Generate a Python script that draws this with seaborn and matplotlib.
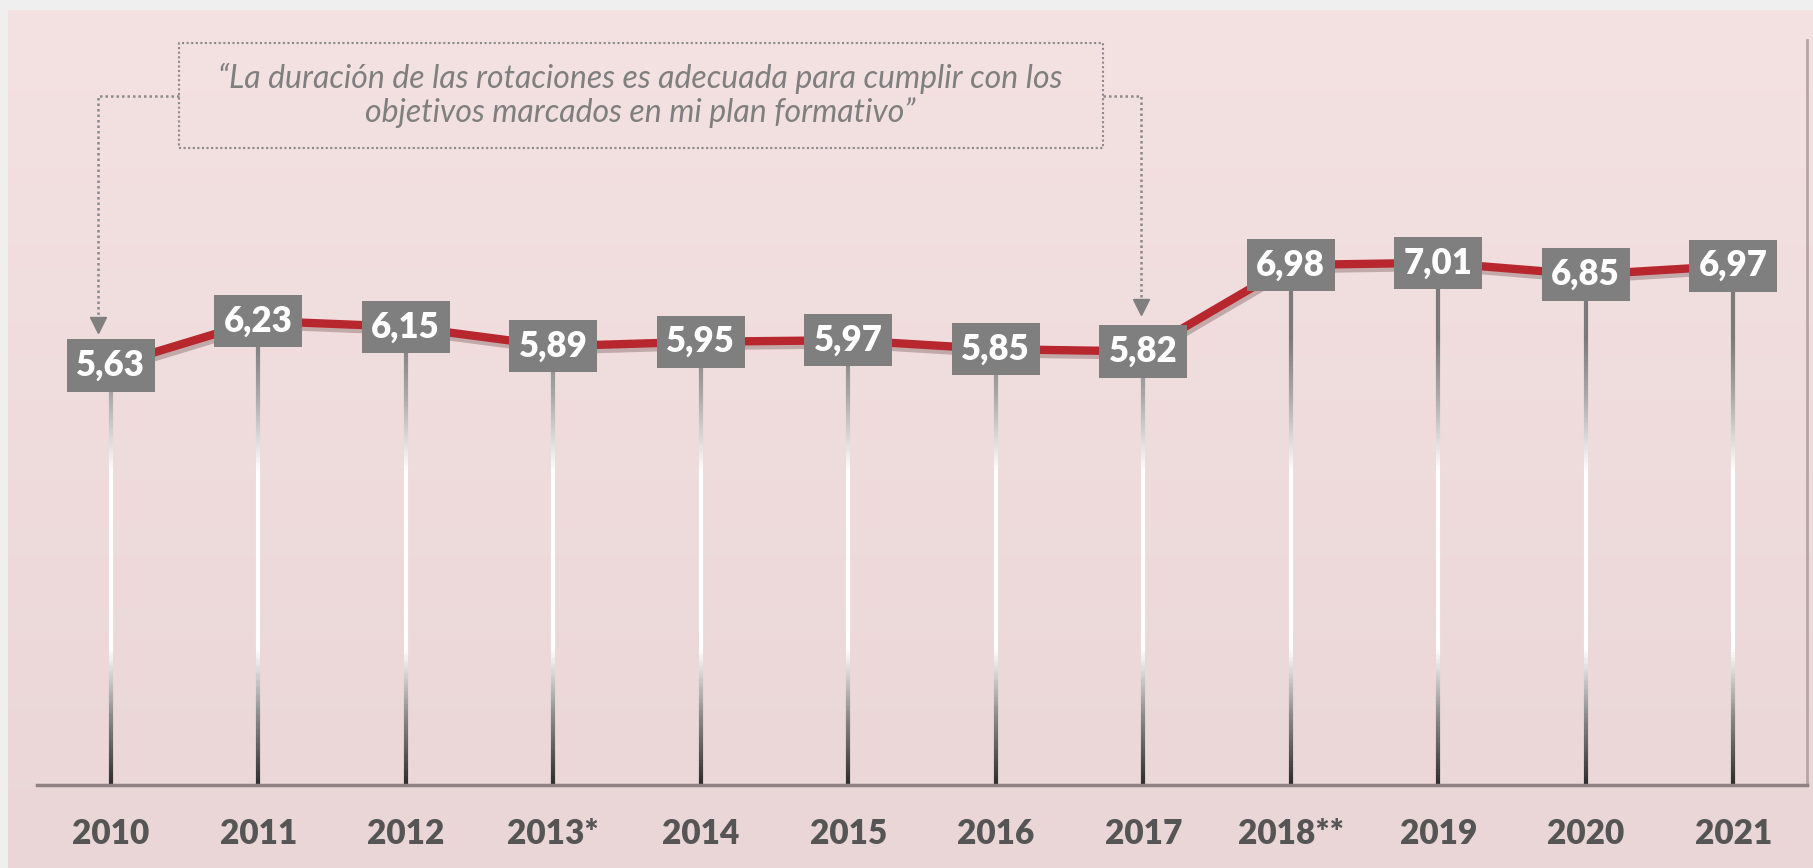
import numpy as np
import pandas as pd
import matplotlib.pyplot as plt
import seaborn as sns
from matplotlib.collections import LineCollection
from matplotlib.colors import LinearSegmentedColormap
import matplotlib.patheffects as pe

# data
years = ['2010', '2011', '2012', '2013*', '2014', '2015', '2016', '2017',
         '2018**', '2019', '2020', '2021']
scores = [5.63, 6.23, 6.15, 5.89, 5.95, 5.97, 5.85, 5.82, 6.98, 7.01, 6.85, 6.97]
quote = ('\u201cLa duración de las rotaciones es adecuada para cumplir con los\n'
         'objetivos marcados en mi plan formativo\u201d')

df = pd.DataFrame({'pos': np.arange(len(years)), 'year': years, 'score': scores})

sns.set_style('white')
plt.rcParams['font.family'] = ['Lato', 'DejaVu Sans']

W, H = 1813, 868
fig = plt.figure(figsize=(W / 100, H / 100), dpi=100)
fig.patch.set_facecolor('#efefef')

# pink gradient background
bg = fig.add_axes([8 / W, 0, 1 - 8 / W, 1 - 10 / H])
grad = LinearSegmentedColormap.from_list('bg', ['#ead6d6', '#f4e1e2'])
bg.imshow(np.linspace(0, 1, 256)[::-1].reshape(-1, 1), aspect='auto', cmap=grad,
          extent=[0, 1, 0, 1])
bg.set_axis_off()

# plot area
ax = fig.add_axes([37 / W, (H - 785) / H, 1770 / W, 745 / H])
ax.set_facecolor('none')
ax.set_xlim(-0.5, len(years) - 0.5)
ax.set_ylim(0, 10)

# gradient drop lines
drop = LinearSegmentedColormap.from_list(
    'drop', [(0, '#2e2e2e'), (0.15, '#8a8a8a'), (0.3, '#ffffff'),
             (0.7, '#ffffff'), (0.87, '#a8a8a8'), (1, '#7a7a7a')])
for x, v in zip(df['pos'], df['score']):
    yy = np.linspace(0, v, 200)
    segs = [[(x, yy[k]), (x, yy[k + 1])] for k in range(len(yy) - 1)]
    lc = LineCollection(segs, colors=drop(np.clip(yy[:-1] / 6.0, 0, 1)),
                        linewidths=3, zorder=2)
    ax.add_collection(lc)

# red line
sns.lineplot(data=df, x='pos', y='score', ax=ax, color='#b8272d', linewidth=6,
             zorder=3,
             path_effects=[pe.SimpleLineShadow(offset=(1.5, -3), shadow_color='#6e4a4a',
                                               alpha=0.35),
                           pe.Normal()])

# value boxes
for x, v in zip(df['pos'], df['score']):
    ax.text(x, v, f'{v:.2f}'.replace('.', ','), ha='center', va='center',
            fontsize=25, fontweight='heavy', color='white', zorder=6,
            bbox=dict(boxstyle='square,pad=0.28', fc='#7f7f7f', ec='none'))

# axes styling
for s in ['top', 'left']:
    ax.spines[s].set_visible(False)
ax.spines['bottom'].set_color('#8f8282')
ax.spines['bottom'].set_linewidth(2.5)
ax.spines['right'].set_color('#b3a6a6')
ax.spines['right'].set_linewidth(2)
ax.set_yticks([])
ax.set_xticks(df['pos'])
ax.set_xticklabels(years, fontsize=24, fontweight='heavy', color='#555555')
ax.tick_params(axis='x', length=0, pad=24)
ax.set_xlabel(None)
ax.set_ylabel(None)

# quote box with dotted connectors
gray = '#8a8a8a'
bx0, bx1, by0, by1 = 0.080, 0.602, 0.855, 0.996
ax.plot([bx0, bx1, bx1, bx0, bx0], [by0, by0, by1, by1, by0], transform=ax.transAxes,
        color=gray, lw=1.5, ls=(0, (1, 1.2)), clip_on=False)
ax.text((bx0 + bx1) / 2, (by0 + by1) / 2, quote, transform=ax.transAxes,
        ha='center', va='center', fontsize=23, style='italic', color='#7f7f7f',
        linespacing=1.15)
ax.plot([bx0, 0.0345, 0.0345], [0.925, 0.925, 0.63], transform=ax.transAxes,
        color=gray, lw=1.8, ls=(0, (1, 1.2)), clip_on=False)
ax.plot([bx1, 0.624, 0.624], [0.925, 0.925, 0.652], transform=ax.transAxes,
        color=gray, lw=1.8, ls=(0, (1, 1.2)), clip_on=False)
ax.plot([0.0345, 0.624], [0.618, 0.641], transform=ax.transAxes, ls='none',
        marker='v', markersize=12, color='#7f7f7f', clip_on=False)

plt.savefig('out.png', dpi=100, facecolor=fig.get_facecolor())
